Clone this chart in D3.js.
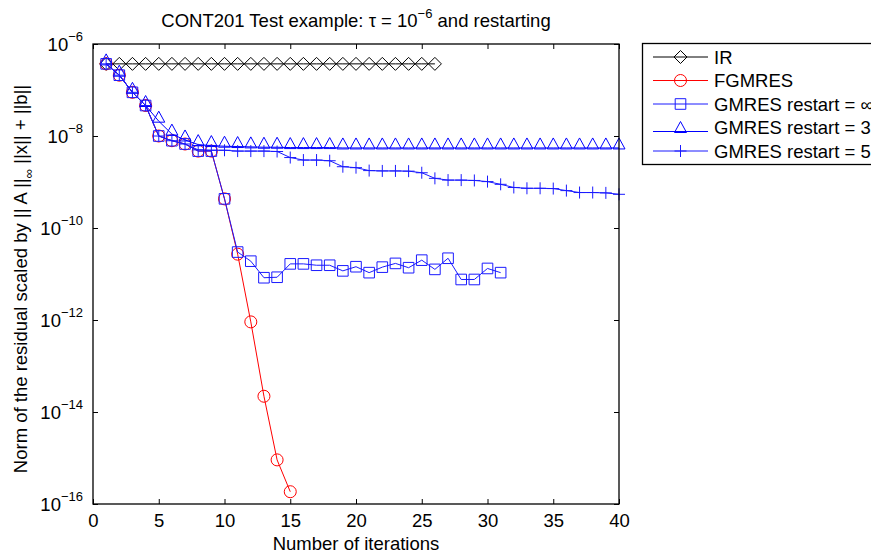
<!DOCTYPE html>
<html>
<head>
<meta charset="utf-8">
<script src="https://cdn.jsdelivr.net/npm/d3@7"></script>
<style>
  body { margin: 0; background: #fff; }
  svg { font-family: "Liberation Sans", Arial, Helvetica, sans-serif; }
</style>
</head>
<body>
<script>
// values (residual per iteration)
let irRes = [3.7e-7, 3.7e-7, 3.7e-7, 3.7e-7, 3.7e-7, 3.7e-7, 3.7e-7, 3.7e-7, 3.7e-7, 3.7e-7,
             3.7e-7, 3.7e-7, 3.7e-7, 3.7e-7, 3.7e-7, 3.7e-7, 3.7e-7, 3.7e-7, 3.7e-7, 3.7e-7,
             3.7e-7, 3.7e-7, 3.7e-7, 3.7e-7, 3.7e-7, 3.7e-7];
let fgmresRes = [3.7e-7, 2.1e-7, 8.9e-8, 4.6e-8, 1.0e-8, 7.9e-9, 6.7e-9, 4.7e-9, 4.7e-9, 4.3e-10,
                 2.7e-11, 9.1e-13, 2.2e-14, 9.1e-16, 1.85e-16];
let gmresInfRes = [3.7e-7, 2.1e-7, 8.9e-8, 4.6e-8, 1.0e-8, 7.9e-9, 6.7e-9, 4.7e-9, 4.7e-9, 4.3e-10,
                   3.0e-11, 1.9e-11, 8.3e-12, 8.5e-12, 1.66e-11, 1.66e-11, 1.55e-11, 1.55e-11, 1.17e-11, 1.44e-11,
                   1.07e-11, 1.41e-11, 1.70e-11, 1.37e-11, 2.0e-11, 1.26e-11, 2.2e-11, 7.6e-12, 7.6e-12, 1.32e-11,
                   1.07e-11];
let gmres3Res = [3.7e-7, 2.1e-7, 8.9e-8, 4.6e-8, 2.1e-8, 1.1e-8, 8.2e-9, 6.5e-9, 6.2e-9, 6.0e-9,
                 5.9e-9, 5.8e-9, 5.7e-9, 5.7e-9, 5.6e-9, 5.6e-9, 5.6e-9, 5.6e-9, 5.5e-9, 5.5e-9,
                 5.5e-9, 5.5e-9, 5.5e-9, 5.5e-9, 5.5e-9, 5.5e-9, 5.5e-9, 5.5e-9, 5.5e-9, 5.5e-9,
                 5.5e-9, 5.5e-9, 5.5e-9, 5.5e-9, 5.5e-9, 5.5e-9, 5.5e-9, 5.5e-9, 5.5e-9, 5.5e-9];
let gmres5Res = [3.7e-7, 2.1e-7, 8.9e-8, 4.6e-8, 1.0e-8, 7.9e-9, 6.7e-9, 5.0e-9, 4.9e-9, 4.9e-9,
                 4.7e-9, 4.7e-9, 4.7e-9, 4.6e-9, 3.4e-9, 3.0e-9, 3.0e-9, 2.9e-9, 2.15e-9, 2.05e-9,
                 1.77e-9, 1.74e-9, 1.74e-9, 1.72e-9, 1.59e-9, 1.2e-9, 1.1e-9, 1.1e-9, 1.08e-9, 1.02e-9,
                 8.9e-10, 7.6e-10, 7.3e-10, 7.3e-10, 7.2e-10, 6.5e-10, 5.9e-10, 5.9e-10, 5.8e-10, 5.4e-10];

let seriesNames = ["IR", "FGMRES", "GMRES restart = \u221e", "GMRES restart = 3", "GMRES restart = 5"];
let xTicks = [0, 5, 10, 15, 20, 25, 30, 35, 40];
let yTicks = [1e-6, 1e-8, 1e-10, 1e-12, 1e-14, 1e-16];
let yTickExp = ["\u22126", "\u22128", "\u221210", "\u221212", "\u221214", "\u221216"];

// chart variables
let width = 871, height = 554;
let margin = {top: 44, right: 252, bottom: 50, left: 93};
let fs = 18.5, fsSmall = 13;

let x = d3.scaleLinear().domain([0, 40]).range([margin.left, width - margin.right]);
let y = d3.scaleLog().domain([1e-16, 1e-6]).range([height - margin.bottom, margin.top]);

let svg = d3.select("body").append("svg")
            .attr("width", width)
            .attr("height", height);

// marker shapes
let markers = {
  diamond: "M0,-6.5L6.5,0L0,6.5L-6.5,0Z",
  circle: "M6,0A6,6 0 1,1 -6,0A6,6 0 1,1 6,0Z",
  square: "M-5.3,-5.3H5.3V5.3H-5.3Z",
  triangle: "M0,-10L6,1L-6,1Z",
  plus: "M-6,0H6M0,-6V6"
};

let series = [
  {name: seriesNames[0], values: irRes, color: "#000", marker: "diamond"},
  {name: seriesNames[1], values: fgmresRes, color: "#ff0000", marker: "circle"},
  {name: seriesNames[2], values: gmresInfRes, color: "#1a1aff", marker: "square"},
  {name: seriesNames[3], values: gmres3Res, color: "#0000ff", marker: "triangle"},
  {name: seriesNames[4], values: gmres5Res, color: "#1a1aff", marker: "plus"}
];

// axes (ticks inside the box, like matlab)
let tl = 5;
svg.append("g")
   .attr("transform", `translate(0,${y(1e-16)})`)
   .call(d3.axisBottom(x).tickValues(xTicks).tickSizeInner(-tl).tickSizeOuter(0).tickPadding(10))
   .call(g => g.select(".domain").remove())
   .call(g => g.selectAll("text").attr("font-size", fs).attr("fill", "#000").attr("font-family", null));
svg.append("g")
   .attr("transform", `translate(0,${y(1e-6)})`)
   .call(d3.axisTop(x).tickValues(xTicks).tickSizeInner(-tl).tickSizeOuter(0).tickFormat(""))
   .call(g => g.select(".domain").remove());
svg.append("g")
   .attr("transform", `translate(${x(0)},0)`)
   .call(d3.axisLeft(y).tickValues(yTicks).tickSizeInner(-tl).tickSizeOuter(0).tickFormat(""))
   .call(g => g.select(".domain").remove());
svg.append("g")
   .attr("transform", `translate(${x(40)},0)`)
   .call(d3.axisRight(y).tickValues(yTicks).tickSizeInner(-tl).tickSizeOuter(0).tickFormat(""))
   .call(g => g.select(".domain").remove());

// y tick labels as 10^n
yTicks.forEach(function(t, i) {
  let lab = svg.append("text")
               .attr("x", x(0) - 10)
               .attr("y", y(t) + 7)
               .attr("text-anchor", "end")
               .attr("font-size", fs);
  lab.append("tspan").text("10");
  lab.append("tspan").attr("dy", -10).attr("font-size", fsSmall).text(yTickExp[i]);
});

// series lines + markers
let line = d3.line()
             .x(function(d, i) { return x(i + 1); })
             .y(function(d) { return y(d); });

series.forEach(function(s) {
  svg.append("path")
     .datum(s.values)
     .attr("d", line)
     .style("fill", "none")
     .style("stroke", s.color)
     .style("stroke-width", 1);
  svg.append("g").selectAll("path")
     .data(s.values)
     .join("path")
     .attr("transform", function(d, i) { return `translate(${x(i + 1)},${y(d)})`; })
     .attr("d", markers[s.marker])
     .style("fill", "none")
     .style("stroke", s.color)
     .style("stroke-width", 1);
});

// box
svg.append("rect")
   .attr("x", x(0)).attr("y", y(1e-6))
   .attr("width", x(40) - x(0)).attr("height", y(1e-16) - y(1e-6))
   .style("fill", "none").style("stroke", "#000").style("stroke-width", 1.3);

// title
let title = svg.append("text")
               .attr("x", (x(0) + x(40)) / 2)
               .attr("y", 27)
               .attr("text-anchor", "middle")
               .attr("font-size", fs);
title.append("tspan").text("CONT201 Test example: \u03c4 = 10");
title.append("tspan").attr("dy", -9).attr("font-size", fsSmall).text("\u22126");
title.append("tspan").attr("dy", 9).text(" and restarting");

// axis labels
svg.append("text")
   .attr("x", (x(0) + x(40)) / 2)
   .attr("y", 550)
   .attr("text-anchor", "middle")
   .attr("font-size", fs)
   .text("Number of iterations");

let ylab = svg.append("text")
              .attr("transform", `translate(27,${(y(1e-6) + y(1e-16)) / 2 + 5}) rotate(-90)`)
              .attr("text-anchor", "middle")
              .attr("font-size", fs);
ylab.append("tspan").text("Norm of the residual scaled by || A ||");
ylab.append("tspan").attr("dy", 6).attr("font-size", fsSmall).text("\u221e");
ylab.append("tspan").attr("dy", -6).text("  ||x|| + ||b||");

// legend
let legend = svg.append("g");
legend.append("rect")
      .attr("x", 642.5).attr("y", 43.5)
      .attr("width", 240).attr("height", 121)
      .style("fill", "#fff").style("stroke", "#000").style("stroke-width", 1.3);
series.forEach(function(s, i) {
  let ry = 57 + i * 23.5;
  let ly = s.marker === "triangle" ? ry + 4 : ry;
  legend.append("line")
        .attr("x1", 653).attr("x2", 708)
        .attr("y1", ly).attr("y2", ly)
        .style("stroke", s.color).style("stroke-width", 1);
  legend.append("path")
        .attr("transform", `translate(680.5,${ly})`)
        .attr("d", markers[s.marker])
        .style("fill", "none").style("stroke", s.color);
  legend.append("text")
        .attr("x", 714).attr("y", ry + 6.5)
        .attr("font-size", fs)
        .text(s.name);
});
</script>
</body>
</html>
